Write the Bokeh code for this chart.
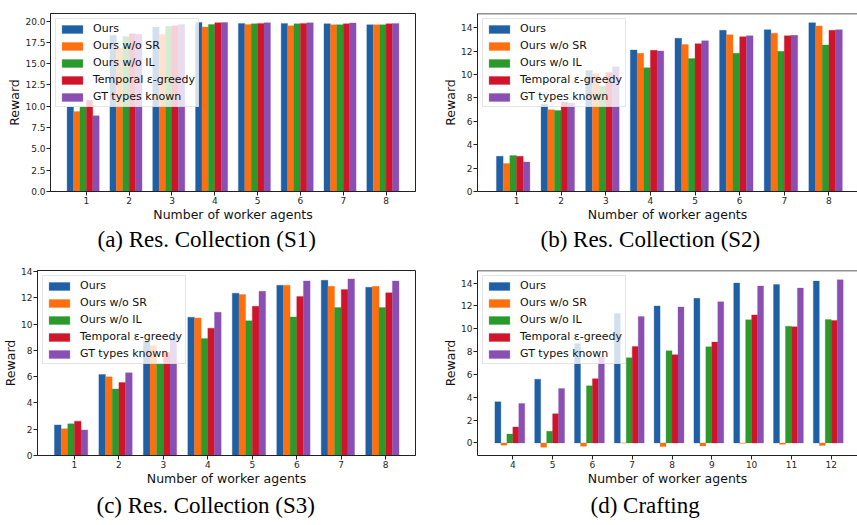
from bokeh.plotting import figure
from bokeh.layouts import column, row
from bokeh.models import (Range1d, FixedTicker, NumeralTickFormatter, Title,
                          Legend, LegendItem, ColumnDataSource, Span)
from bokeh.embed import file_html
from bokeh.resources import INLINE

# ---------------- data ----------------
series = ["Ours", "Ours w/o SR", "Ours w/o IL", "Temporal \u03b5-greedy", "GT types known"]
colors = ["#1f5fa6", "#ff6f0e", "#2a9a2a", "#d0142a", "#8a4fb2"]

agents_8 = [1, 2, 3, 4, 5, 6, 7, 8]
agents_craft = [4, 5, 6, 7, 8, 9, 10, 11, 12]

# (a) Res. Collection (S1)
s1_ours    = [9.92, 18.33, 19.30, 19.84, 19.73, 19.73, 19.69, 19.57]
s1_wo_sr   = [9.38, 16.86, 18.45, 19.30, 19.60, 19.46, 19.57, 19.57]
s1_wo_il   = [9.92, 18.20, 19.38, 19.60, 19.69, 19.69, 19.57, 19.57]
s1_temporal = [10.70, 18.50, 19.46, 19.80, 19.73, 19.73, 19.69, 19.69]
s1_gt      = [8.88, 18.45, 19.60, 19.84, 19.80, 19.80, 19.77, 19.73]

# (b) Res. Collection (S2)
s2_ours    = [3.01, 7.46, 10.34, 12.10, 13.10, 13.78, 13.84, 14.43]
s2_wo_sr   = [2.39, 7.00, 10.10, 11.83, 12.56, 13.40, 13.54, 14.16]
s2_wo_il   = [3.07, 6.92, 9.03, 10.58, 11.37, 11.83, 11.99, 12.53]
s2_temporal = [3.01, 7.65, 10.17, 12.07, 12.64, 13.24, 13.32, 13.78]
s2_gt      = [2.52, 7.57, 10.66, 12.02, 12.89, 13.32, 13.35, 13.84]

# (c) Res. Collection (S3)
s3_ours    = [2.33, 6.16, 8.70, 10.52, 12.35, 12.96, 13.34, 12.80]
s3_wo_sr   = [2.03, 5.99, 8.37, 10.47, 12.25, 12.96, 12.88, 12.88]
s3_wo_il   = [2.41, 5.07, 6.97, 8.90, 10.25, 10.55, 11.26, 11.26]
s3_temporal = [2.61, 5.55, 7.86, 9.69, 11.36, 12.10, 12.63, 12.38]
s3_gt      = [1.95, 6.29, 9.00, 10.90, 12.50, 13.29, 13.44, 13.29]

# (d) Crafting
cr_ours    = [3.60, 5.58, 8.70, 11.33, 12.00, 12.66, 14.00, 13.88, 14.17]
cr_wo_sr   = [-0.20, -0.38, -0.29, 0.00, -0.32, -0.26, -0.03, -0.12, -0.23]
cr_wo_il   = [0.78, 1.02, 5.00, 7.46, 8.07, 8.42, 10.78, 10.22, 10.80]
cr_temporal = [1.39, 2.56, 5.63, 8.45, 7.73, 8.83, 11.21, 10.17, 10.72]
cr_gt      = [3.46, 4.76, 7.55, 11.07, 11.91, 12.37, 13.74, 13.56, 14.29]

ticks_a = [0, 2.5, 5, 7.5, 10, 12.5, 15, 17.5, 20]
ticks_int = [0, 2, 4, 6, 8, 10, 12, 14]

BAR_W = 0.15
OFFSETS = [-0.375, -0.225, -0.075, 0.075, 0.225]
SPINE = "#222222"


def panel(cats, values, xr, yr, yticks, yfmt, caption, width, height,
          bl, br, bt, bb, cap_offset, cap_standoff, open_right=False):
    p = figure(width=width, height=height, output_backend="svg",
               toolbar_location=None, x_range=Range1d(*xr), y_range=Range1d(*yr),
               min_border_left=bl, min_border_right=br, min_border_top=bt,
               min_border_bottom=bb)
    items = []
    for name, col, vals, off in zip(series, colors, values, OFFSETS):
        src = ColumnDataSource(dict(x=[c + off for c in cats], top=vals))
        r = p.vbar(x="x", top="top", bottom=0, width=BAR_W, source=src,
                   fill_color=col, line_color=col, line_width=0.5, line_alpha=0.6)
        items.append(LegendItem(label=name, renderers=[r]))
    leg = Legend(items=items, location="top_left", margin=5, padding=3,
                 spacing=4, glyph_width=26, glyph_height=10, label_height=12,
                 label_standoff=8, label_text_font="DejaVu Sans",
                 label_text_font_size="11px", label_text_color="#111111",
                 background_fill_alpha=0.8, border_line_color="#cccccc",
                 border_line_width=1)
    p.add_layout(leg)
    p.xgrid.visible = False
    p.ygrid.visible = False
    if open_right:
        # frame runs past the right edge of the picture: draw top spine only
        p.outline_line_color = None
        p.add_layout(Span(location=yr[1], dimension="width",
                          line_color=SPINE, line_width=1.5))
    else:
        p.outline_line_color = SPINE
        p.outline_line_width = 1
    p.xaxis.ticker = FixedTicker(ticks=cats)
    p.yaxis.ticker = FixedTicker(ticks=yticks)
    p.yaxis.formatter = NumeralTickFormatter(format=yfmt)
    for ax in (p.xaxis[0], p.yaxis[0]):
        ax.axis_line_color = SPINE
        ax.major_tick_out = 4
        ax.major_tick_in = 0
        ax.major_tick_line_color = SPINE
        ax.minor_tick_line_color = None
        ax.major_label_text_font = "DejaVu Sans"
        ax.major_label_text_font_size = "9px"
        ax.major_label_text_color = "#262626"
        ax.major_label_standoff = 1
        ax.axis_label_text_font = "DejaVu Sans"
        ax.axis_label_text_font_size = "12.5px"
        ax.axis_label_text_font_style = "normal"
        ax.axis_label_text_color = "#111111"
        ax.axis_label_standoff = 0
    p.xaxis.axis_label = "Number of worker agents"
    p.yaxis.axis_label = "Reward"
    p.add_layout(Title(text=caption, align="left", offset=cap_offset,
                       text_font="Liberation Serif", text_font_size="23px",
                       text_font_style="normal", text_color="#000000",
                       standoff=cap_standoff), "below")
    return p


pa = panel(agents_8, [s1_ours, s1_wo_sr, s1_wo_il, s1_temporal, s1_gt],
           (0.1625, 8.6875), (0, 20.89), ticks_a, "0.0",
           "(a) Res. Collection (S1)", 430, 255, 50, 15, 13, 62, 47, 1)
pb = panel(agents_8, [s2_ours, s2_wo_sr, s2_wo_il, s2_temporal, s2_gt],
           (0.126, 8.64), (0, 15.22), ticks_int, "0",
           "(b) Res. Collection (S2)", 427, 255, 47, 0, 4, 64, 63, 1,
           open_right=True)
pc = panel(agents_8, [s3_ours, s3_wo_sr, s3_wo_il, s3_temporal, s3_gt],
           (0.17, 8.67), (0, 14.08), ticks_int, "0",
           "(c) Res. Collection (S3)", 430, 270, 36, 15, 15, 70, 59, 4)
pd = panel(agents_craft, [cr_ours, cr_wo_sr, cr_wo_il, cr_temporal, cr_gt],
           (3.1125, 12.66), (-1.1, 15.1), ticks_int, "0",
           "(d) Crafting", 427, 270, 47, 0, 14, 70, 113, 4,
           open_right=True)

layout = column(row(pa, pb), row(pc, pd))
open("out.html", "w").write(file_html(layout, INLINE))
